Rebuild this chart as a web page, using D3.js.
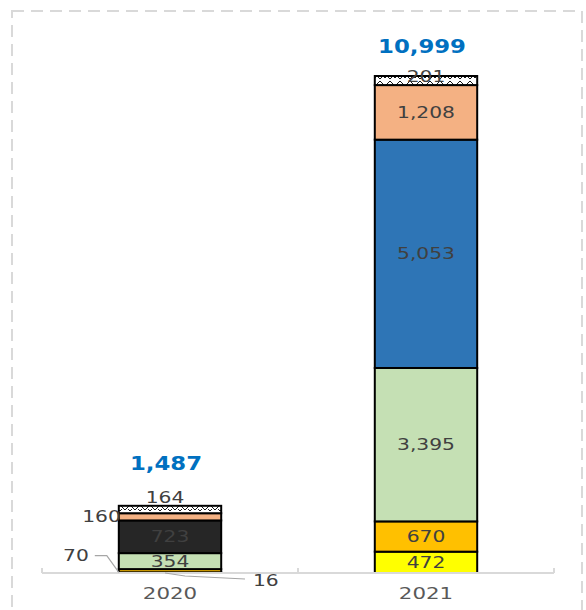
<!DOCTYPE html>
<html>
<head>
<meta charset="utf-8">
<script src="https://cdn.jsdelivr.net/npm/d3@7/dist/d3.min.js"></script>
<style>
  html, body { margin: 0; padding: 0; background: #fff; }
  svg { display: block; }
</style>
</head>
<body>
<svg id="chart" width="586" height="610"></svg>
<script>
// ---- data ----
const categories = ["2020", "2021"];
const seriesNames = ["S1", "S2", "S3", "S4", "S5", "S6", "S7"];
const s1Yellow = [16, 472];
const s2Orange = [70, 670];
const s3Green = [354, 3395];
const s4Black = [723, 0];
const s5Blue = [0, 5053];
const s6Salmon = [160, 1208];
const s7Hatched = [164, 201];
const totals = [1487, 10999];

const seriesValues = [s1Yellow, s2Orange, s3Green, s4Black, s5Blue, s6Salmon, s7Hatched];
const seriesFills = ["#FFFF00", "#FFC000", "#C5E0B4", "#262626", "#2E75B6", "#F4B183", "url(#hatch)"];

const svg = d3.select("#chart");

// hatch pattern (zigzag)
const defs = svg.append("defs");
const pat = defs.append("pattern")
  .attr("id", "hatch").attr("patternUnits", "userSpaceOnUse")
  .attr("width", 10).attr("height", 8);
pat.append("rect").attr("width", 10).attr("height", 8).attr("fill", "#fff");
pat.append("path").attr("d", "M0,1 L5,6 L10,1 M0,7 L2,5 M10,7 L8,5")
  .attr("fill", "none").attr("stroke", "#000").attr("stroke-width", 0.9);

// outer dashed frame
svg.append("rect")
  .attr("x", 12).attr("y", 11).attr("width", 570).attr("height", 640)
  .attr("fill", "none").attr("stroke", "#D9D9D9").attr("stroke-width", 2)
  .attr("stroke-dasharray", "12,7");

// scales
const x = d3.scaleBand().domain(categories).range([42, 554]).paddingInner(0.6).paddingOuter(0.3);
const y = d3.scaleLinear().domain([0, 10999]).range([573, 76]);

// stack
const rows = categories.map((c, i) => {
  const r = { cat: c };
  seriesNames.forEach((s, k) => r[s] = seriesValues[k][i]);
  return r;
});
const stacked = d3.stack().keys(seriesNames)(rows);

// bars
const gBars = svg.append("g");
stacked.forEach((layer, k) => {
  layer.forEach((d, i) => {
    if (d[1] - d[0] <= 0) return;
    gBars.append("rect")
      .attr("x", x(categories[i]))
      .attr("width", x.bandwidth())
      .attr("y", y(d[1]))
      .attr("height", y(d[0]) - y(d[1]))
      .attr("fill", seriesFills[k])
      .attr("stroke", "#000")
      .attr("stroke-width", 2);
  });
});

const labelFont = "DejaVu Sans, Verdana, sans-serif";
const SX = 1.35;
// stretched text helper
function stext(tx, ty, txt, opts) {
  const o = Object.assign({ anchor: "middle", size: 15, fill: "#404040", weight: "normal", sx: SX, baseline: "central" }, opts || {});
  return svg.append("text")
    .attr("transform", `translate(${tx},${ty}) scale(${o.sx},1)`)
    .attr("text-anchor", o.anchor)
    .attr("dominant-baseline", o.baseline)
    .attr("font-family", labelFont)
    .attr("font-size", o.size)
    .attr("font-weight", o.weight)
    .attr("fill", o.fill)
    .text(txt);
}

// axis
const axisG = svg.append("g").attr("transform", `translate(0,${y(0)})`);
axisG.append("line").attr("x1", 42).attr("x2", 554).attr("y1", 0).attr("y2", 0)
  .attr("stroke", "#D9D9D9").attr("stroke-width", 2);
const tickXs = [42, 42 + x.step(), 554];
tickXs.forEach(tx => axisG.append("line").attr("x1", tx).attr("x2", tx).attr("y1", 0).attr("y2", -5)
  .attr("stroke", "#D9D9D9").attr("stroke-width", 2));
categories.forEach(c => {
  stext(x(c) + x.bandwidth() / 2, y(0) + 21, c, { size: 15.5, fill: "#595959", sx: 1.38 });
});

// value labels
const fmt = d3.format(",");
function label(tx, ty, txt, anchor) {
  stext(tx, ty, txt, { anchor: anchor || "middle" });
}

stacked.forEach((layer, k) => {
  layer.forEach((d, i) => {
    const v = d[1] - d[0];
    if (v <= 0) return;
    const cx = x(categories[i]) + x.bandwidth() / 2;
    const cy = (y(d[0]) + y(d[1])) / 2;
    const h = y(d[0]) - y(d[1]);
    const name = seriesNames[k];
    if (h >= 12) {
      label(cx, cy, fmt(v));
    } else if (i === 1 && name === "S7") {
      label(cx, cy - 4, fmt(v));
    } else if (i === 0 && name === "S7") {
      label(cx - 5, y(d[1]) - 8, fmt(v));
    } else if (i === 0 && name === "S6") {
      label(x(categories[i]) + 2, cy, fmt(v), "end");
    } else if (i === 0 && name === "S2") {
      // left with leader
      const bx = x(categories[i]);
      const by = y(d[0]);
      label(bx - 30, cy - 15, fmt(v), "end");
      svg.append("path")
        .attr("d", `M${bx - 24},${cy - 15} L${bx - 12},${cy - 15} L${bx},${by}`)
        .attr("fill", "none").attr("stroke", "#A6A6A6").attr("stroke-width", 1.2);
    } else if (i === 0 && name === "S1") {
      const bx = x(categories[i]) + x.bandwidth() / 2 - 5;
      const by = y(d[0]);
      label(bx + 88, by + 8, fmt(v), "start");
      svg.append("path")
        .attr("d", `M${bx},${by} L${bx + 20},${by + 3} L${bx + 80},${by + 6}`)
        .attr("fill", "none").attr("stroke", "#A6A6A6").attr("stroke-width", 1.2);
    }
  });
});

// totals
const totalOffsets = [42, 29];
categories.forEach((c, i) => {
  stext(x(c) + x.bandwidth() / 2 - 4, y(totals[i]) - totalOffsets[i], fmt(totals[i]),
    { size: 19, weight: "bold", fill: "#0070C0", sx: 1.2 });
});
</script>
</body>
</html>
